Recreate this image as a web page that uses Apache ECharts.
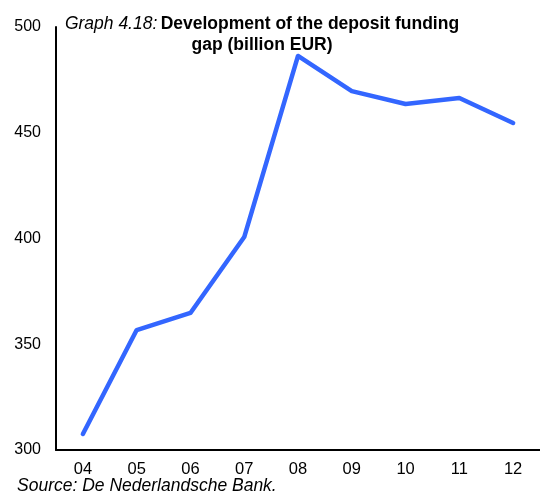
<!DOCTYPE html>
<html>
<head>
<meta charset="utf-8">
<script src="https://cdn.jsdelivr.net/npm/echarts@6/dist/echarts.min.js"></script>
<style>html,body{margin:0;padding:0;background:#fff}#c{width:540px;height:501px}</style>
</head>
<body>
<div id="c"></div>
<script>
var categories = ['04','05','06','07','08','09','10','11','12'];
var gapValues = [307.6, 356.7, 364.8, 400.7, 486.3, 469.7, 463.6, 466.4, 454.6];
var yTicks = [300, 350, 400, 450, 500];

var FONT = '"Liberation Sans", Arial, sans-serif';
var chart = echarts.init(document.getElementById('c'), null, {renderer: 'canvas'});
chart.setOption({
  animation: false,
  backgroundColor: '#fff',
  graphic: [
    {
      type: 'text', x: 262, y: 24,
      style: {
        text: '{i|Graph 4.18:} {b|Development of the deposit funding}',
        align: 'center', verticalAlign: 'middle',
        rich: {
          i: {font: 'italic normal 17.5px ' + FONT, fill: '#000'},
          b: {font: 'normal bold 17.5px ' + FONT, fill: '#000'}
        }
      }
    },
    {
      type: 'text', x: 262, y: 45,
      style: {
        text: 'gap (billion EUR)', align: 'center', verticalAlign: 'middle',
        font: 'normal bold 17.5px ' + FONT, fill: '#000'
      }
    },
    {
      type: 'text', x: 17, y: 486,
      style: {text: 'Source: De Nederlandsche Bank.', align: 'left', verticalAlign: 'middle',
        font: 'italic normal 17.5px ' + FONT, fill: '#000'}
    }
  ],
  grid: {left: 56, width: 488, top: 27, height: 423, containLabel: false},
  xAxis: {
    type: 'category', data: categories, boundaryGap: true,
    axisLine: {lineStyle: {color: '#000', width: 2}},
    axisTick: {show: false},
    axisLabel: {color: '#000', fontFamily: FONT, fontSize: 16.5, margin: 11}
  },
  yAxis: {
    type: 'value', min: 300, max: 500, interval: 50,
    axisLine: {show: true, lineStyle: {color: '#000', width: 2}},
    axisTick: {show: false},
    splitLine: {show: false},
    axisLabel: {color: '#000', fontFamily: FONT, fontSize: 16, margin: 15,
      formatter: function(v){ return yTicks.indexOf(v) >= 0 ? String(v) : ''; }}
  },
  series: [{
    type: 'line', data: gapValues, symbol: 'none',
    lineStyle: {color: '#3366FF', width: 4.5, cap: 'round', join: 'round'}
  }]
});
</script>
</body>
</html>
